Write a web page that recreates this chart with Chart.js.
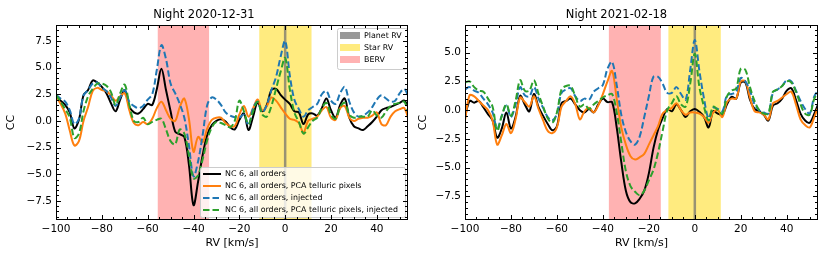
<!DOCTYPE html>
<html>
<head>
<meta charset="utf-8">
<script src="https://cdn.jsdelivr.net/npm/chart.js@4.4.1/dist/chart.umd.min.js"></script>
<style>
  body { margin: 0; background: #fff; }
  .panel { position: absolute; top: 0; width: 415px; height: 260px; }
</style>
</head>
<body>
<div class="panel" style="left:0"><canvas id="night1" width="415" height="260"></canvas></div>
<div class="panel" style="left:415px"><canvas id="night2" width="415" height="260"></canvas></div>
<script>
// RV grid in km/s
const rv = [
  -100, -98, -96, -94, -92, -90, -88, -86, -84, -82, -80, -78, -76,
  -74, -72, -70, -68, -66, -64, -62, -60, -58, -56, -54, -52, -50,
  -48, -46, -44, -42, -40, -38, -36, -34, -32, -30, -28, -26, -24,
  -22, -20, -18, -16, -14, -12, -10, -8, -6, -4, -2, 0, 2,
  4, 6, 8, 10, 12, 14, 16, 18, 20, 22, 24, 26, 28,
  30, 32, 34, 36, 38, 40, 42, 44, 46, 48, 50, 52, 54
];

// Night 2020-12-31
const allOrders1231 = [
  2.3, 1.9, 1.5, 0.8, -0.7, 0.1, 2.4, 2.9, 3.8, 3.6, 3.2, 2.6, 1.65,
  0.9, 2.0, 2.9, 1.35, 0.8, 0.7, 1.1, 1.6, 1.5, 3.0, 4.9, 2.9, 0.9,
  -1.0, -1.25, -1.5, -4.1, -7.9, -5.7, -3.2, -1.3, -0.4, 0.0, 0.15, -0.05, -0.6,
  -0.8, 0.1, 0.7, -0.85, 0.4, 1.75, 0.9, 1.5, 2.9, 3.0, 2.45, 2.0, 1.6,
  0.9, 0.8, -0.3, 0.6, 0.7, 0.5, 1.2, 2.1, 1.0, 0.3, 1.5, 2.1, 0.3,
  -0.5, -0.7, -0.85, -0.5, -0.1, 0.4, 1.0, 1.2, 1.3, 1.5, 1.7, 1.9, 1.2
];
const pca1231 = [
  2.3, 1.6, 0.7, -0.9, -2.3, -1.9, 0.0, 1.3, 2.8, 3.1, 2.9, 2.8, 2.4,
  1.9, 2.3, 2.6, 1.0, -0.2, -0.4, -0.1, -0.3, 0.2, 1.2, 1.8, 1.0, 0.2,
  0.0, 1.3, 2.1, 0.2, -2.9, -1.5, -2.0, -0.7, 0.1, 0.3, 0.3, -0.2, -0.5,
  -0.5, 0.6, 1.4, 0.4, 1.2, 2.0, 1.0, 1.4, 2.2, 1.9, 1.3, 0.7, 0.2,
  0.1, -0.2, -1.1, 0.0, 0.2, 0.4, 1.0, 1.3, 0.3, 0.1, 1.2, 1.4, 0.3,
  0.0, 0.2, 0.3, 0.3, 0.5, 0.8, -0.3, -0.4, 0.4, 0.9, 1.1, 1.2, 0.0
];
const inj1231 = [
  2.45, 2.1, 1.8, 1.0, -0.3, 0.2, 2.4, 2.9, 3.5, 3.6, 3.1, 2.8, 2.2,
  1.4, 2.2, 2.9, 1.8, 1.4, 1.2, 1.4, 2.0, 2.5, 4.8, 7.1, 5.8, 3.5,
  2.6, 1.6, 0.3, -2.3, -5.2, -3.8, -1.3, 1.5, 2.2, 2.0, 1.5, 0.8, 0.5,
  0.35, 0.3, 0.6, -0.4, 1.2, 1.8, 0.8, 1.5, 2.9, 4.1, 6.0, 7.5, 4.3,
  2.0, 1.1, 0.4, 1.0, 1.3, 1.6, 2.5, 2.8, 1.9, 1.6, 2.6, 3.2, 1.8,
  0.8, 0.4, 0.5, 0.8, 1.3, 2.0, 2.4, 2.1, 1.8, 1.9, 2.6, 3.0, 2.1
];
const pcaInj1231 = [
  2.45, 1.8, 1.1, 0.3, -1.6, -1.2, 0.9, 2.3, 3.0, 3.5, 3.5, 3.3, 2.7,
  1.5, 2.6, 3.4, 1.5, 0.0, -0.1, 0.3, -0.3, -0.1, 0.1, 0.2, -0.8, -1.9,
  -2.2, -0.8, -1.2, -3.2, -5.4, -5.1, -3.6, -1.8, -0.6, -0.1, -0.2, -0.4, -0.6,
  0.0, 1.9, 0.9, -0.3, 0.9, 1.8, 0.6, 0.4, 1.4, 3.0, 4.6, 5.9, 3.0,
  0.8, -0.1, -1.2, -0.6, 0.0, 0.3, 1.2, 1.7, 0.6, 0.2, 1.3, 1.7, 0.6,
  0.3, 0.4, 0.4, 0.4, 1.0, 0.5, 0.3, 0.9, 1.4, 1.6, 1.7, 1.8, 0.5
];

// Night 2021-02-18
const allOrders0218 = [
  -0.6, 0.8, 0.65, 0.8, 0.25, -0.35, -0.9, -2.4, -1.6, -0.2, -1.6, -0.6, 1.25,
  0.5, -0.1, 1.4, 0.25, -0.5, -1.2, -1.75, -1.4, 0.6, 0.8, 1.0, 0.5, 0.0,
  -0.2, 0.1, -0.2, 0.5, 1.0, 0.7, 0.7, -1.5, -4.5, -7.0, -8.0, -8.1, -7.7,
  -7.0, -5.5, -3.3, -1.7, -0.7, 0.1, -0.1, 0.5, 0.0, -0.6, -0.1, 0.1, -0.15,
  -0.6, -1.5, -0.1, -0.3, -0.4, 0.5, 1.15, 1.0, 2.4, 2.4, 0.9, 0.1, -0.1,
  -0.4, -0.9, 0.4, 0.6, 1.0, 1.7, 1.9, 0.9, -0.3, -0.9, -1.1, -0.3, 0.7
];
const pca0218 = [
  -0.9, 1.3, 1.2, 0.8, 0.4, 0.0, -0.9, -3.0, -2.2, -1.2, -2.0, -0.8, 1.1,
  0.7, 0.3, 1.2, 0.1, -0.9, -1.8, -2.0, -1.5, 0.3, 0.8, 1.2, 0.5, -0.8,
  -0.1, 0.2, -0.2, 0.4, 1.4, 2.5, 3.4, 1.0, -1.5, -3.0, -4.0, -4.3, -4.1,
  -3.8, -3.0, -2.2, -1.4, -0.3, 0.0, 0.2, 0.6, 0.0, -0.4, -0.2, -0.2, -0.3,
  -0.6, -1.1, -0.2, 0.0, -0.6, 0.7, 1.0, 1.0, 2.5, 2.5, 1.1, -0.1, -0.2,
  -0.4, -0.8, 0.6, 0.8, 1.1, 1.4, 1.6, 0.5, -0.8, -1.3, -1.5, -0.6, 0.4
];
const inj0218 = [
  1.8, 2.0, 1.7, 1.5, 1.0, 0.5, -0.2, -1.6, -0.5, 0.4, -0.6, 0.5, 2.0,
  1.3, 1.2, 2.0, 1.0, 0.2, -0.6, -0.9, -0.3, 1.5, 1.8, 1.9, 1.2, 0.8,
  1.0, 0.9, 1.6, 1.9, 2.2, 3.6, 4.2, 2.2, -0.4, -1.9, -2.7, -3.0, -2.3,
  -0.6, 1.2, 2.9, 2.9, 2.3, 1.5, 1.5, 2.0, 1.4, 0.9, 3.5, 6.1, 3.4,
  1.0, -0.7, 0.2, 0.1, -0.1, 1.3, 1.4, 1.6, 2.8, 2.5, 1.7, 0.5, 0.0,
  -0.2, -0.3, 1.5, 1.8, 2.1, 2.6, 2.5, 1.7, 0.8, 0.1, -0.3, 1.2, 1.8
];
const pcaInj0218 = [
  2.4, 2.5, 2.0, 1.7, 1.6, 1.0, 0.3, -1.8, -0.5, 0.5, -0.5, 0.8, 2.6,
  1.7, 1.7, 2.6, 1.4, 0.3, -0.7, -1.1, -0.2, 1.8, 2.1, 2.1, 1.2, 0.3,
  0.5, 0.1, 0.5, 0.8, 1.1, 1.3, 1.4, -0.2, -2.8, -5.3, -6.6, -7.1, -7.4,
  -7.0, -6.1, -5.2, -3.7, -1.8, 0.0, 0.6, 1.2, 0.5, 0.3, 2.3, 4.9, 2.0,
  0.3, -0.9, 0.3, 0.0, -0.3, 1.2, 1.7, 1.9, 3.6, 3.5, 2.0, 0.8, 0.0,
  -0.3, -0.3, 1.6, 1.8, 2.1, 2.5, 2.4, 1.6, 0.5, -0.3, -0.4, 1.0, 1.6
];

// shaded regions (km/s)
const berv1231 = [-55.6, -33.2];
const star1231 = [-11.3, 11.5];
const berv0218 = [-37.4, -14.8];
const star0218 = [-11.5, 11.3];
const planetRV = 0;

// ticks
const xTicks = [-100, -80, -60, -40, -20, 0, 20, 40];
const yTicks1231 = [-7.5, -5, -2.5, 0, 2.5, 5, 7.5];
const yTicks0218 = [-7.5, -5, -2.5, 0, 2.5, 5];
const seriesLabels = [
  'NC 6, all orders',
  'NC 6, all orders, PCA telluric pixels',
  'NC 6, all orders, injected',
  'NC 6, all orders, PCA telluric pixels, injected'
];
const bandLabels = ['Planet RV', 'Star RV', 'BERV'];

const lineColors = ['#000000', '#ff7f0e', '#1f77b4', '#2ca02c'];
const lineDash = [[], [], [6.5, 3], [6.5, 3]];
const bandColors = { planet: 'rgba(110,110,110,0.7)', star: 'rgba(255,215,0,0.5)', berv: 'rgba(255,0,0,0.3)' };

Chart.defaults.font.family = '"DejaVu Sans", sans-serif';
Chart.defaults.color = '#000';

const minus = v => (v < 0 ? '\u2212' : '');

// shaded BERV / star bands and planet line under the curves
const bandsPlugin = {
  id: 'bands',
  beforeDatasetsDraw(chart, args, opts) {
    const { ctx, chartArea: a, scales: { x } } = chart;
    ctx.save();
    const b0 = x.getPixelForValue(opts.berv[0]), b1 = x.getPixelForValue(opts.berv[1]);
    ctx.fillStyle = bandColors.berv;
    ctx.fillRect(b0, a.top, b1 - b0, a.bottom - a.top);
    const s0 = x.getPixelForValue(opts.star[0]), s1 = x.getPixelForValue(opts.star[1]);
    ctx.fillStyle = bandColors.star;
    ctx.fillRect(s0, a.top, s1 - s0, a.bottom - a.top);
    const p = x.getPixelForValue(opts.planet);
    ctx.strokeStyle = bandColors.planet;
    ctx.lineWidth = 2.5;
    ctx.beginPath();
    ctx.moveTo(p, a.top);
    ctx.lineTo(p, a.bottom);
    ctx.stroke();
    ctx.restore();
  }
};

// box around the plot with inward ticks on every side
const framePlugin = {
  id: 'frame',
  afterDraw(chart) {
    const { ctx, chartArea: a, scales: { x, y } } = chart;
    const L = Math.round(a.left) + 0.5, R = Math.round(a.right) - 0.5;
    const T = Math.round(a.top) + 0.5, B = Math.round(a.bottom) - 0.5;
    ctx.save();
    ctx.strokeStyle = '#000';
    ctx.lineWidth = 1;
    ctx.strokeRect(L, T, R - L, B - T);
    ctx.beginPath();
    for (let v = Math.ceil(x.min / 5) * 5; v <= x.max; v += 5) {
      const px = Math.round(x.getPixelForValue(v)) + 0.5;
      const len = v % 20 === 0 ? 4.5 : 2.5;
      ctx.moveTo(px, B); ctx.lineTo(px, B - len);
      ctx.moveTo(px, T); ctx.lineTo(px, T + len);
    }
    for (let k = Math.ceil(y.min * 2); k <= y.max * 2; k++) {
      const v = k / 2;
      const py = Math.round(y.getPixelForValue(v)) + 0.5;
      const len = k % 5 === 0 ? 4.5 : 2.5;
      ctx.moveTo(L, py); ctx.lineTo(L + len, py);
      ctx.moveTo(R, py); ctx.lineTo(R - len, py);
    }
    ctx.stroke();
    ctx.restore();
  }
};

function legendBox(ctx, x, y, w, h) {
  ctx.beginPath();
  ctx.roundRect(x + 0.5, y + 0.5, w, h, 2);
  ctx.fillStyle = 'rgba(255,255,255,0.8)';
  ctx.fill();
  ctx.strokeStyle = '#cccccc';
  ctx.lineWidth = 1;
  ctx.stroke();
}

// the two matplotlib-style legends of the first panel
const legendsPlugin = {
  id: 'legends',
  afterDatasetsDraw(chart) {
    const ctx = chart.ctx;
    ctx.save();
    ctx.font = '7.9px "DejaVu Sans"';
    ctx.textBaseline = 'middle';
    // band legend, upper right
    legendBox(ctx, 337, 28, 70, 41);
    const swatches = [bandColors.planet, bandColors.star, bandColors.berv];
    bandLabels.forEach((lab, i) => {
      const yy = 35.5 + i * 12;
      ctx.fillStyle = swatches[i];
      ctx.fillRect(340, yy - 3.5, 20, 7);
      ctx.fillStyle = '#000';
      ctx.fillText(lab, 364, yy);
    });
    // line legend, lower right
    legendBox(ctx, 200, 167, 205, 50);
    seriesLabels.forEach((lab, i) => {
      const yy = 174 + i * 12;
      ctx.strokeStyle = lineColors[i];
      ctx.lineWidth = 2;
      ctx.setLineDash(lineDash[i]);
      ctx.beginPath();
      ctx.moveTo(203, yy);
      ctx.lineTo(221, yy);
      ctx.stroke();
      ctx.setLineDash([]);
      ctx.fillStyle = '#000';
      ctx.fillText(lab, 225, yy);
    });
    ctx.restore();
  }
};

function makeChart(id, title, series, berv, star, yMin, yMax, yTicks, yWidth, rightPad, yTitlePad, withLegend) {
  const order = [3, 2, 1, 0]; // green drawn on top, black at the bottom
  const datasets = series.map((s, i) => ({
    label: seriesLabels[i],
    data: rv.map((v, j) => ({ x: v, y: s[j] })),
    borderColor: lineColors[i],
    borderDash: lineDash[i],
    borderWidth: 2,
    pointRadius: 0,
    tension: 0.35,
    fill: false,
    order: order[i]
  }));
  const plugins = [bandsPlugin, framePlugin];
  if (withLegend) plugins.push(legendsPlugin);
  return new Chart(document.getElementById(id), {
    type: 'line',
    data: { datasets },
    plugins,
    options: {
      responsive: false,
      animation: false,
      devicePixelRatio: 1,
      layout: { padding: { left: 0, right: rightPad, top: 0, bottom: 0 } },
      plugins: {
        legend: { display: false },
        tooltip: { enabled: false },
        title: {
          display: true, text: title, color: '#000',
          font: { size: 11.5, weight: 'normal' },
          padding: { top: 8, bottom: 3.2 }
        },
        bands: { berv, star, planet: planetRV }
      },
      scales: {
        x: {
          type: 'linear', min: -100, max: 53.6,
          grid: { display: false, drawTicks: false },
          border: { display: false },
          afterBuildTicks: s => { s.ticks = xTicks.map(v => ({ value: v })); },
          ticks: {
            color: '#000', font: { size: 10.5 }, padding: 3, maxRotation: 0, autoSkip: false,
            callback: v => minus(v) + Math.abs(v)
          },
          title: { display: true, text: 'RV [km/s]', color: '#000', font: { size: 11 }, padding: { top: 0, bottom: 10.4 } },
          afterFit: s => { s.height = 40; }
        },
        y: {
          type: 'linear', min: yMin, max: yMax,
          grid: { display: false, drawTicks: false },
          border: { display: false },
          afterBuildTicks: s => { s.ticks = yTicks.map(v => ({ value: v })); },
          ticks: {
            color: '#000', font: { size: 10.5 }, padding: 4, autoSkip: false,
            callback: v => minus(v) + Math.abs(v).toFixed(1)
          },
          title: { display: true, text: 'CC', color: '#000', font: { size: 11 }, padding: { top: yTitlePad, bottom: 0 } },
          afterFit: s => { s.width = yWidth; }
        }
      }
    }
  });
}

makeChart('night1', 'Night 2020-12-31', [allOrders1231, pca1231, inj1231, pcaInj1231],
  berv1231, star1231, -9.3, 9.0, yTicks1231, 56, 7, 5, true);
makeChart('night2', 'Night 2021-02-18', [allOrders0218, pca0218, inj0218, pcaInj0218],
  berv0218, star0218, -9.55, 7.4, yTicks0218, 50, 12, 2, false);
</script>
</body>
</html>
